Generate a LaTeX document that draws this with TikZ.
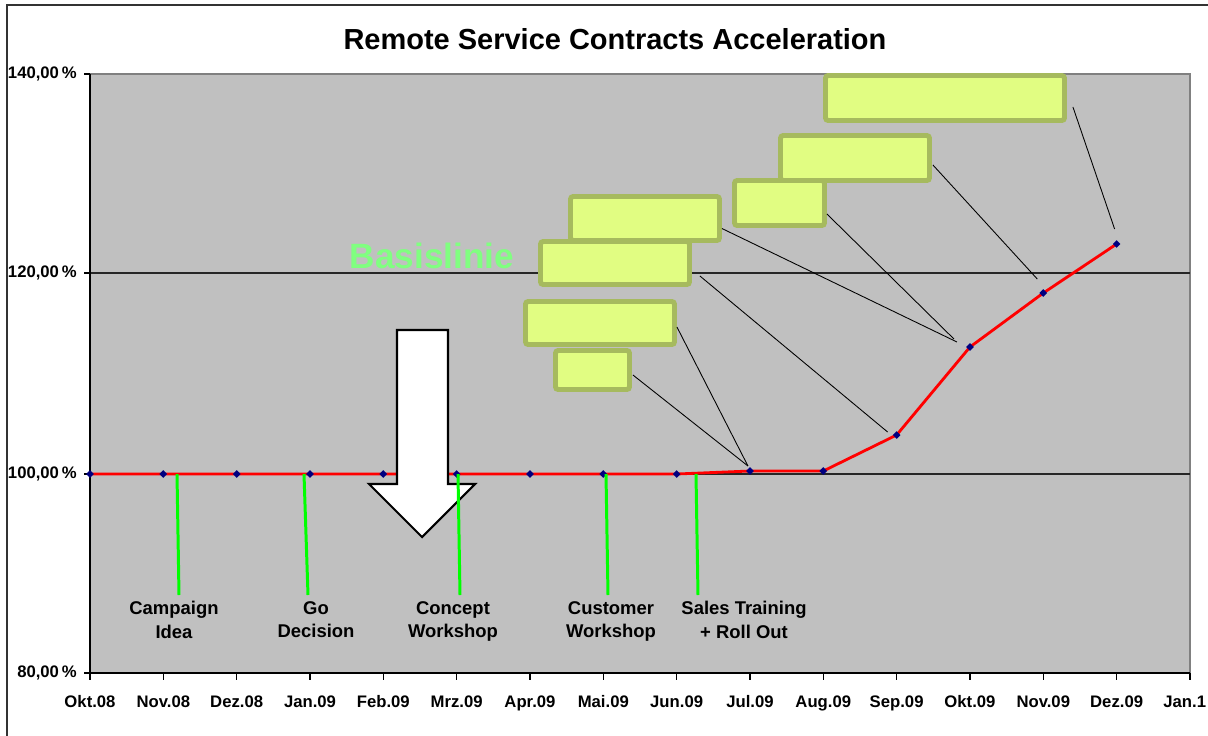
\documentclass[tikz,border=0pt]{standalone}
\usepackage{fontspec}
\setmainfont{Liberation Sans}
\usetikzlibrary{shapes.geometric}
\definecolor{plotgray}{RGB}{192,192,192}
\definecolor{calloutfill}{RGB}{225,253,130}
\definecolor{calloutdraw}{RGB}{166,186,94}
\definecolor{milegreen}{RGB}{0,255,0}
\definecolor{basegreen}{RGB}{128,255,128}
\definecolor{markblue}{RGB}{0,0,128}

\begin{document}
\begin{tikzpicture}[
    x=0.02cm, y=-0.02cm,
    callout/.style={draw=calloutdraw, fill=calloutfill, line width=2.8pt, rounded corners=1.5pt, inner sep=0pt},
    marker/.style={diamond, fill=markblue, inner sep=0pt, minimum size=0.16cm},
    milestone/.style={draw=milegreen, line width=1.7pt},
    leader/.style={draw=black, line width=0.5pt},
    mlabel/.style={align=center, inner sep=0pt, font=\fontsize{10.5}{13.5}\selectfont\bfseries},
    ticklabel/.style={inner sep=0pt, font=\fontsize{9.5}{11}\selectfont\bfseries}
]
    \useasboundingbox (0,0) rectangle (1208,735);
    \clip (0,0) rectangle (1208,735);

    % frame and plot area
    \draw[black!80, line width=0.8pt] (7,760) |- (1230,5);
    \fill[plotgray] (90,74) rectangle (1190,673);
    \draw[gray, line width=0.6pt] (90,74) -- (1190,74) -- (1190,673);
    \draw[black!85, line width=0.8pt] (90,273) -- (1190,273) (90,474) -- (1190,474);
    \draw[black, line width=0.8pt] (90,74) -- (90,673) -- (1190,673);

    \node[font=\fontsize{16.5}{20}\selectfont\bfseries, anchor=base] (title) at (615,49) {Remote Service Contracts Acceleration};

    % axes
    \foreach \v/\y in {140/74,120/273,100/474,80/673} {
        \draw[line width=0.8pt] (84,\y) -- (90,\y);
        \node[ticklabel, anchor=east] (ylab\v) at (77,\y) {\v,00\,\%};
    }
    \foreach \m [count=\i from 0] in {Okt.08,Nov.08,Dez.08,Jan.09,Feb.09,Mrz.09,Apr.09,Mai.09,Jun.09,Jul.09,Aug.09,Sep.09,Okt.09,Nov.09,Dez.09} {
        \draw[line width=0.8pt] (90+73.33*\i,673) -- (90+73.33*\i,680);
        \node[ticklabel, anchor=base] (month\i) at (90+73.33*\i,707) {\m};
    }
    \draw[line width=0.8pt] (1190,673) -- (1190,680);
    \node[ticklabel, anchor=base west] (month15) at (1163,707) {Jan.1};

    \node[font=\fontsize{20}{24}\selectfont\bfseries, text=basegreen, anchor=base] (baseline) at (432,268) {Basislinie};

    % data
    \foreach \v [count=\i from 0] in {100,100,100,100,100,100,100,100,100,100.3,100.3,103.9,112.7,118.1,123.0}
        \coordinate (p\i) at (90+73.33*\i, {474-10*(\v-100)});
    \draw[red, line width=1.6pt] (p0) \foreach \i in {1,...,14} { -- (p\i) };
    \foreach \i in {0,...,14}
        \node[marker] (mk\i) at (p\i) {};

    % arrow
    \draw[fill=white, line width=1.2pt] (397,330) -- (448,330) -- (448,484) -- (475,484) -- (422,537) -- (369,484) -- (397,484) -- cycle;

    % milestones
    \foreach \xt/\xb/\xl/\txt/\nm in {177/179/174/{Campaign\\Idea}/campaign, 304/308/316/{Go\\Decision}/decision, 458/460/453/{Concept\\Workshop}/concept, 606/608/611/{Customer\\Workshop}/customer, 696/698/744/{Sales Training\\+ Roll Out}/sales} {
        \coordinate (\nm-top) at (\xt,474);
        \coordinate (\nm-end) at (\xb,595);
        \draw[milestone] (\nm-top) -- (\nm-end);
        \node[mlabel, anchor=north] (\nm) at (\xl,601) {\txt};
    }

    % callouts
    \node[callout, minimum width=1.48cm, minimum height=0.78cm] (boxa) at (592.5,370) {};
    \node[callout, minimum width=2.98cm, minimum height=0.86cm] (boxb) at (600,323) {};
    \node[callout, minimum width=2.98cm, minimum height=0.88cm] (boxd) at (645,218.5) {};
    \node[callout, minimum width=2.98cm, minimum height=0.86cm] (boxc) at (615,263) {};
    \node[callout, minimum width=2.98cm, minimum height=0.90cm] (boxf) at (855,158) {};
    \node[callout, minimum width=1.80cm, minimum height=0.90cm] (boxe) at (779.5,203) {};
    \node[callout, minimum width=4.78cm, minimum height=0.90cm] (boxg) at (945,98) {};

    \draw[leader] ([shift={(1,5)}]boxa.east) -- ([shift={(-2,-5)}]p9);
    \draw[leader] ([shift={(0,4)}]boxb.east) -- ([shift={(-2,-5)}]p9);
    \draw[leader] ([shift={(8,13)}]boxc.east) -- ([shift={(-9,-3)}]p11);
    \draw[leader] ([shift={(0,10)}]boxd.east) -- ([shift={(-13,-5)}]p12);
    \draw[leader] ([shift={(0,11)}]boxe.east) -- ([shift={(-16,-8)}]p12);
    \draw[leader] ([shift={(1,7)}]boxf.east) -- ([shift={(-6,-14)}]p13);
    \draw[leader] ([shift={(6,9)}]boxg.east) -- ([shift={(-2,-15)}]p14);
\end{tikzpicture}
\end{document}
